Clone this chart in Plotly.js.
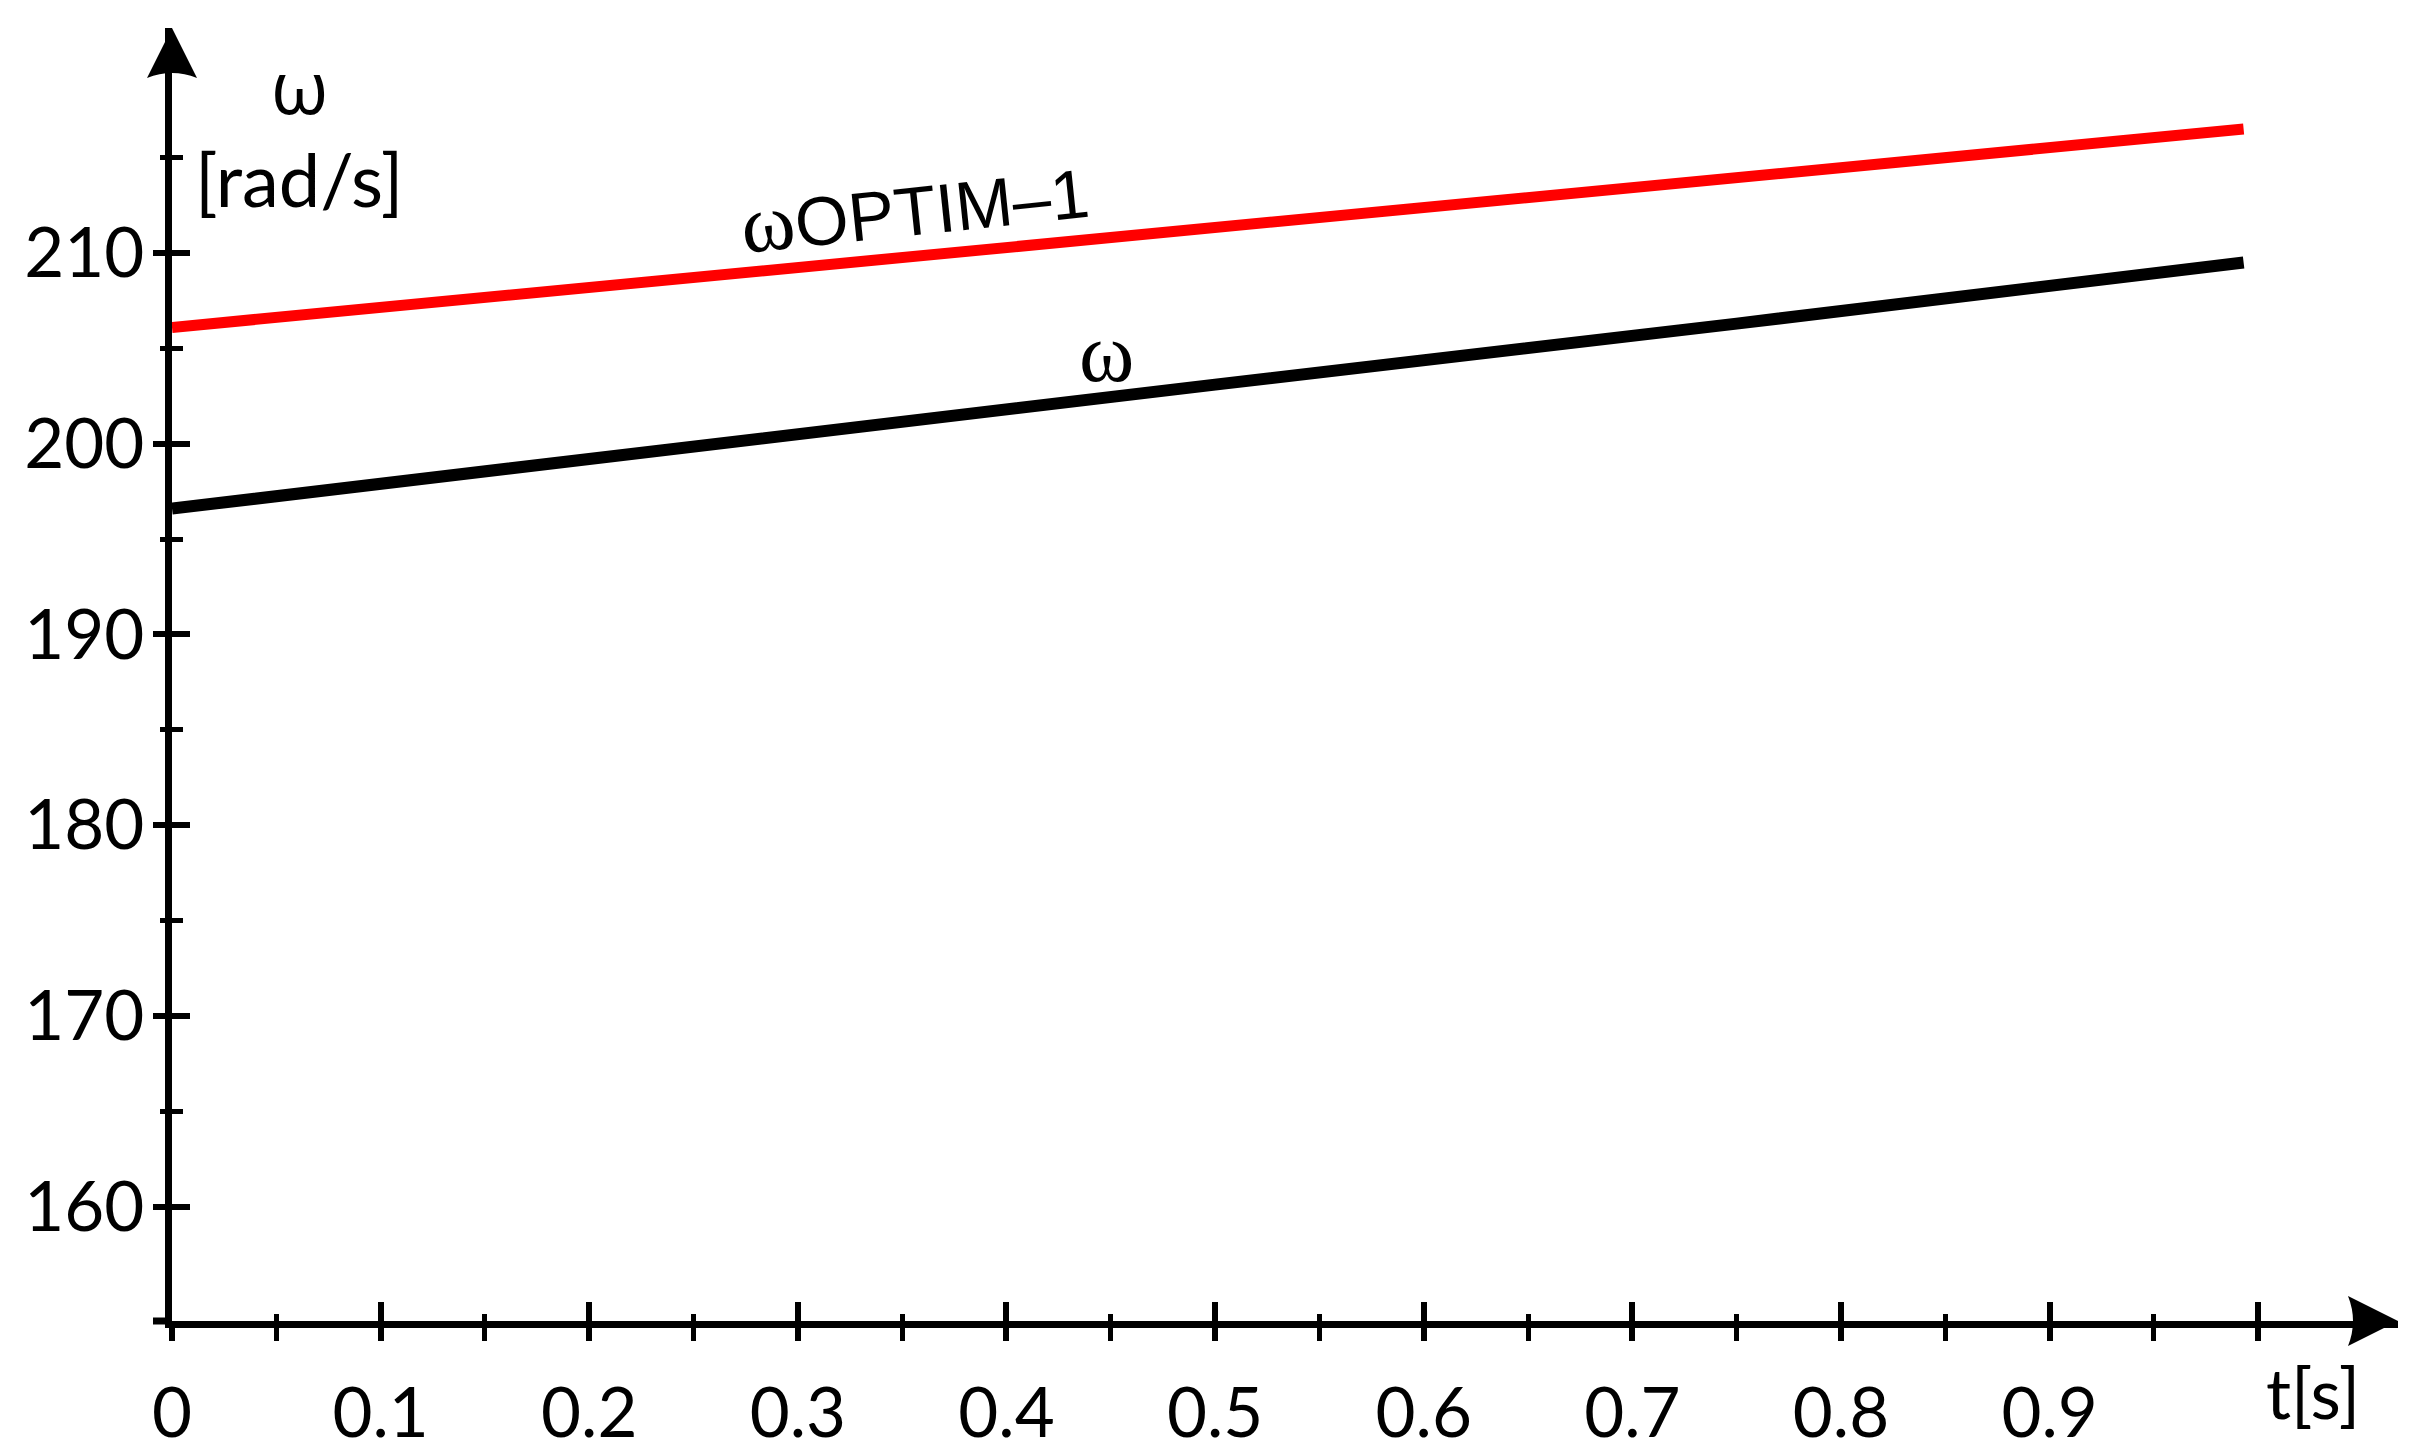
<!DOCTYPE html>
<html>
<head>
<meta charset="utf-8">
<script src="https://cdn.plot.ly/plotly-3.0.1.min.js"></script>
<style>html,body{margin:0;padding:0;background:#fff;}#chart{width:2415px;height:1455px;}</style>
</head>
<body>
<div id="chart"></div>
<script>
// ---- data ----
const t = [0, 0.25, 0.5, 0.75, 0.993];
const omegaOptim = [206.1, 208.7, 211.3, 213.9, 216.5];
const omega = [196.6, 199.9, 203.1, 206.3, 209.5];

const xMajorVals = [0, 0.1, 0.2, 0.3, 0.4, 0.5, 0.6, 0.7, 0.8, 0.9, 1.0];
const xMajorText = ['0', '0.1', '0.2', '0.3', '0.4', '0.5', '0.6', '0.7', '0.8', '0.9', ''];
const xMinorVals = [0.05, 0.15, 0.25, 0.35, 0.45, 0.55, 0.65, 0.75, 0.85, 0.95];
const yMajorVals = [160, 170, 180, 190, 200, 210];
const yMinorVals = [165, 175, 185, 195, 205, 215];

const xRange = [0, 1.067];
const yRange = [154, 221.8];

const tickFont = {family: 'Lato, "Open Sans", sans-serif', size: 69, color: '#000'};

const traces = [
  {x: t, y: omegaOptim, type: 'scatter', mode: 'lines', line: {color: '#ff0000', width: 11}, hoverinfo: 'skip', showlegend: false},
  {x: t, y: omega, xaxis: 'x2', yaxis: 'y2', type: 'scatter', mode: 'lines', line: {color: '#000000', width: 12}, hoverinfo: 'skip', showlegend: false}
];

const baseAxis = {showgrid: false, zeroline: false, fixedrange: true};

const layout = {
  width: 2415, height: 1455,
  paper_bgcolor: '#fff', plot_bgcolor: '#fff',
  margin: {l: 172, r: 17, t: 28, b: 134},
  showlegend: false,
  // main axes: line, labels and the inner half of each tick
  xaxis: Object.assign({}, baseAxis, {
    range: xRange, showline: true, linecolor: '#000', linewidth: 7,
    tickmode: 'array', tickvals: xMajorVals, ticktext: xMajorText,
    ticks: 'inside', ticklen: 19, tickwidth: 6, tickcolor: '#000',
    ticklabelstandoff: 26, tickfont: tickFont,
    minor: {tickmode: 'array', tickvals: xMinorVals, ticks: 'inside', ticklen: 7, tickwidth: 5, tickcolor: '#000', showgrid: false}
  }),
  yaxis: Object.assign({}, baseAxis, {
    range: yRange, showline: true, linecolor: '#000', linewidth: 7,
    tickmode: 'array', tickvals: yMajorVals,
    ticks: 'inside', ticklen: 18, tickwidth: 6, tickcolor: '#000',
    ticklabelstandoff: 7, tickfont: tickFont,
    minor: {tickmode: 'array', tickvals: yMinorVals, ticks: 'inside', ticklen: 11, tickwidth: 5, tickcolor: '#000', showgrid: false}
  }),
  // overlaid axes: the outer half of each tick
  xaxis2: Object.assign({}, baseAxis, {
    overlaying: 'x', anchor: 'y2', side: 'bottom', range: xRange, showline: false,
    tickmode: 'array', tickvals: xMajorVals, showticklabels: false,
    ticks: 'outside', ticklen: 19, tickwidth: 6, tickcolor: '#000',
    minor: {tickmode: 'array', tickvals: xMinorVals, ticks: 'outside', ticklen: 19, tickwidth: 5, tickcolor: '#000', showgrid: false}
  }),
  yaxis2: Object.assign({}, baseAxis, {
    overlaying: 'y', anchor: 'x2', side: 'left', range: yRange, showline: false,
    tickmode: 'array', tickvals: yMajorVals, showticklabels: false,
    ticks: 'outside', ticklen: 18, tickwidth: 6, tickcolor: '#000',
    minor: {tickmode: 'array', tickvals: yMinorVals, ticks: 'outside', ticklen: 11, tickwidth: 5, tickcolor: '#000', showgrid: false}
  }),
  shapes: [
    // arrowhead on the y axis
    {type: 'path', xref: 'paper', yref: 'paper', xsizemode: 'pixel', ysizemode: 'pixel', xanchor: 0, yanchor: 1,
     path: 'M 0 0 L -25 -50 Q 0 -40 25 -50 Z', fillcolor: '#000', line: {width: 0}, layer: 'above'},
    // arrowhead on the x axis
    {type: 'path', xref: 'paper', yref: 'paper', xsizemode: 'pixel', ysizemode: 'pixel', xanchor: 1, yanchor: 0,
     path: 'M 0 0 L -50 25 Q -40 0 -50 -25 Z', fillcolor: '#000', line: {width: 0}, layer: 'above'},
    // small overshoot of the x axis to the left of the origin
    {type: 'line', xref: 'paper', yref: 'paper', xsizemode: 'pixel', xanchor: 0, x0: -19, x1: 0, y0: 0, y1: 0,
     line: {color: '#000', width: 7}, layer: 'above'}
  ],
  annotations: [
    {x: 0.061, y: 218.8, xref: 'x', yref: 'y', text: 'ω', showarrow: false,
     font: {family: '"Open Sans", sans-serif', size: 74, color: '#000'}},
    {x: 0.061, y: 213.9, xref: 'x', yref: 'y', text: '[rad/s]', showarrow: false,
     font: {family: 'Lato, sans-serif', size: 74, color: '#000'}},
    {x: 0.356, y: 212.4, xref: 'x', yref: 'y', showarrow: false, textangle: -6,
     text: '<span style="font-family:Liberation Serif;font-size:82px">ω</span>OPTIM–1',
     font: {family: '"Liberation Sans", Arial, sans-serif', size: 69, color: '#000'}},
    {x: 0.448, y: 204.8, xref: 'x', yref: 'y', text: 'ω', showarrow: false,
     font: {family: '"Liberation Serif", serif', size: 84, color: '#000'}},
    {x: 0.962, y: -0.055, xref: 'paper', yref: 'paper', xanchor: 'center', yanchor: 'middle', text: 't[s]', showarrow: false,
     font: {family: 'Lato, sans-serif', size: 70, color: '#000'}}
  ]
};

Plotly.newPlot('chart', traces, layout, {staticPlot: true, displayModeBar: false});
</script>
</body>
</html>
